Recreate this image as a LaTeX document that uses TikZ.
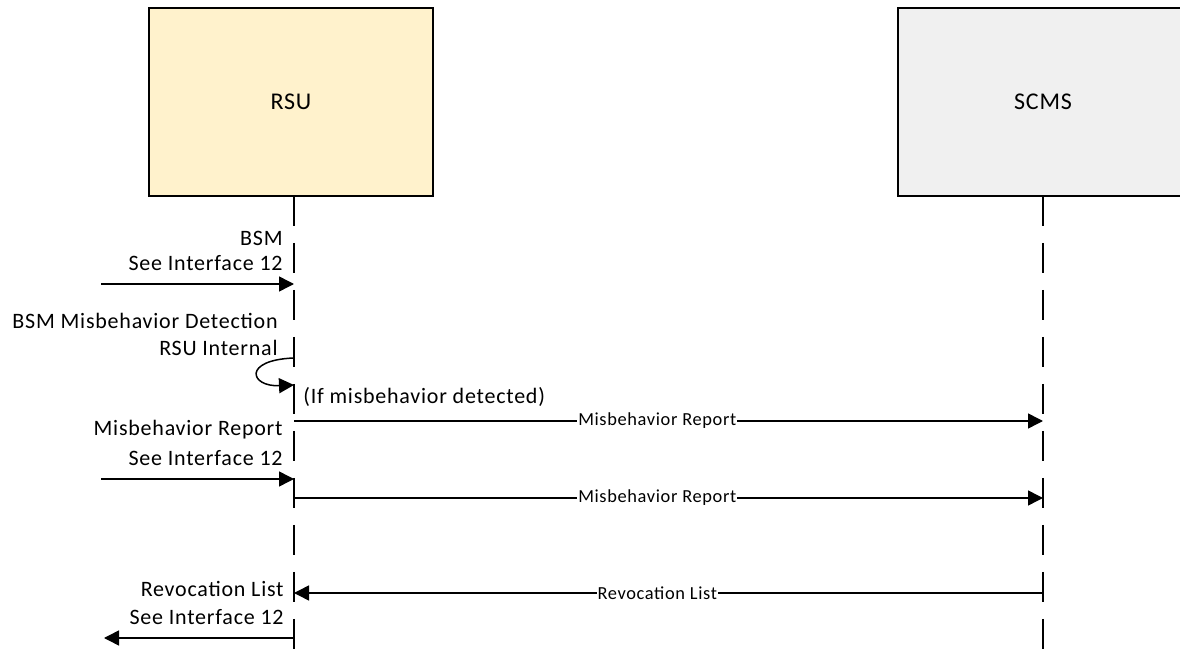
\documentclass[tikz,border=0pt]{standalone}
\usepackage{fontspec}
\setmainfont{Carlito}[LetterSpace=3.5]
\usetikzlibrary{arrows.meta}
\definecolor{rsufill}{HTML}{FFF2CC}
\definecolor{scmsfill}{HTML}{F0F0F0}
\tikzset{
  actor/.style={draw=black, line width=0.6pt, minimum width=142pt, minimum height=94pt,
    inner sep=0pt, font=\fontsize{12}{14}\selectfont},
  lifeline/.style={line width=0.6pt, dash pattern=on 15.25pt off 8.25pt},
  msg/.style={line width=0.75pt, -{Triangle[length=7.5pt,width=7.5pt]}},
  msglabel/.style={fill=white, inner sep=0.5pt, font=\fontsize{9.2}{10}\selectfont},
  note/.style={inner sep=0pt, font=\fontsize{11}{13}\selectfont, anchor=east},
}
\begin{document}
\begin{tikzpicture}[x=0.5pt,y=-0.5pt]
\useasboundingbox (0,0) rectangle (1180,652);
\begin{scope}
\clip (0,0) rectangle (1180,652);

% participants
\node[actor, fill=rsufill] (rsu) at (291,102) {RSU};
\node[actor, fill=scmsfill, minimum width=145pt] (scms) at (1043,102) {SCMS};

% lifelines
\coordinate (rtop) at (294,196);
\coordinate (rbot) at (294,651);
\coordinate (stop) at (1043,196);
\coordinate (sbot) at (1043,651);
\draw[lifeline] (rtop) -- (rbot);
\draw[lifeline] (stop) -- (sbot);

% message points on the lifelines
\coordinate (rA) at (294,284);
\coordinate (rB) at (294,358);
\coordinate (rC) at (294,385);
\coordinate (rD) at (294,421);
\coordinate (sD) at (1043,421);
\coordinate (rE) at (294,479);
\coordinate (rF) at (294,498);
\coordinate (sF) at (1043,498);
\coordinate (rG) at (294,593);
\coordinate (sG) at (1043,593);
\coordinate (rH) at (294,638);
% free ends of external messages
\coordinate (inA) at (101,284);
\coordinate (inE) at (101,479);
\coordinate (outH) at (104,638);

% BSM received
\node[note] (bsm) at (283,238) {BSM};
\node[note] (bsmref) at (283,263) {See Interface 12};
\draw[msg] (inA) -- (rA);

% internal misbehaviour detection
\node[note] (det) at (278,321) {BSM Misbehavior Detection};
\node[note] (detint) at (278,348) {RSU Internal};
\draw[msg] (rB) .. controls (242,360) and (250,387) .. (rC);
\node[note, anchor=west] (cond) at (303,397) {(If misbehavior detected)};

% report to SCMS
\draw[msg] (rD) -- node[msglabel, pos=0.485] (mr1) {Misbehavior Report} (sD);

% relayed misbehaviour report
\node[note] (mrin) at (283,430) {Misbehavior Report};
\node[note] (mrref) at (283,458) {See Interface 12};
\draw[msg] (inE) -- (rE);
\draw[msg] (rF) -- node[msglabel, pos=0.485] (mr2) {Misbehavior Report} (sF);

% revocation list distribution
\draw[msg] (sG) -- node[msglabel, pos=0.515] (rl) {Revocation List} (rG);
\node[note] (rlout) at (284,589) {Revocation List};
\node[note] (rlref) at (284,617) {See Interface 12};
\draw[msg] (rH) -- (outH);
\end{scope}
\end{tikzpicture}
\end{document}
